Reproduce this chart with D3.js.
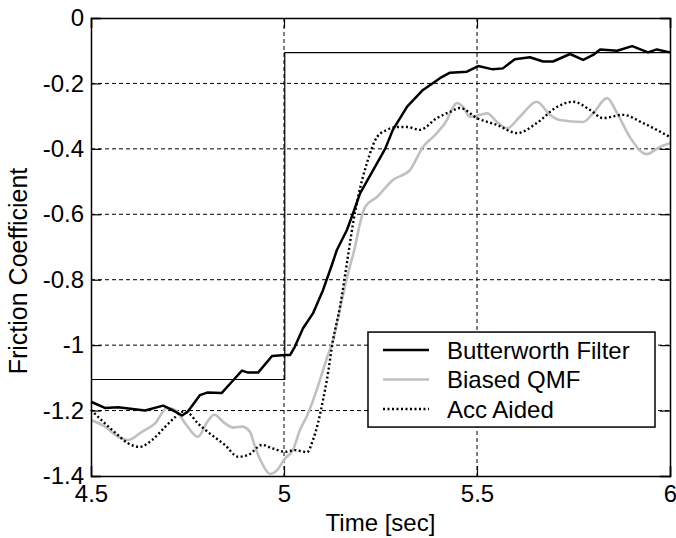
<!DOCTYPE html>
<html>
<head>
<meta charset="utf-8">
<script src="https://cdn.jsdelivr.net/npm/d3@7"></script>
<style>
  body { margin: 0; background: #fff; }
  svg text { font-family: "Liberation Sans", Arial, sans-serif; fill: #000; }
</style>
</head>
<body>
<svg width="676" height="538"></svg>
<script>
// tick values
var xTicks = [4.5, 5, 5.5, 6];
var yTicks = [0, -0.2, -0.4, -0.6, -0.8, -1, -1.2, -1.4];

// reference step (time, value)
var stepT = [4.5, 5.002, 5.002, 6];
var stepV = [-1.105, -1.105, -0.106, -0.106];

// Butterworth Filter
var bwT = [4.500, 4.536, 4.570, 4.640, 4.687, 4.710, 4.736, 4.751, 4.782, 4.801, 4.839, 4.865, 4.891, 4.907, 4.933, 4.969, 5.003, 5.016, 5.028, 5.049, 5.075, 5.101, 5.124, 5.137, 5.163, 5.179, 5.197, 5.231, 5.262, 5.282, 5.319, 5.360, 5.404, 5.430, 5.474, 5.503, 5.541, 5.567, 5.598, 5.637, 5.671, 5.697, 5.741, 5.775, 5.801, 5.819, 5.863, 5.902, 5.943, 5.966, 6.000];
var bwV = [-1.173, -1.192, -1.190, -1.200, -1.185, -1.198, -1.215, -1.203, -1.153, -1.145, -1.146, -1.112, -1.078, -1.084, -1.084, -1.033, -1.030, -1.030, -1.005, -0.949, -0.903, -0.832, -0.755, -0.709, -0.648, -0.597, -0.536, -0.465, -0.400, -0.342, -0.271, -0.220, -0.184, -0.167, -0.164, -0.147, -0.157, -0.154, -0.126, -0.120, -0.133, -0.133, -0.110, -0.128, -0.113, -0.096, -0.100, -0.086, -0.105, -0.096, -0.105];

// Biased QMF
var qmfT = [4.500, 4.536, 4.570, 4.596, 4.632, 4.666, 4.697, 4.718, 4.744, 4.777, 4.801, 4.819, 4.847, 4.868, 4.891, 4.912, 4.925, 4.943, 4.964, 4.982, 5.003, 5.023, 5.041, 5.060, 5.075, 5.093, 5.111, 5.127, 5.150, 5.166, 5.184, 5.197, 5.210, 5.241, 5.282, 5.326, 5.360, 5.396, 5.422, 5.438, 5.448, 5.464, 5.482, 5.508, 5.526, 5.552, 5.578, 5.611, 5.655, 5.689, 5.715, 5.775, 5.801, 5.837, 5.863, 5.896, 5.940, 5.974, 6.000];
var qmfV = [-1.229, -1.249, -1.280, -1.290, -1.265, -1.239, -1.192, -1.198, -1.239, -1.280, -1.235, -1.213, -1.239, -1.252, -1.249, -1.265, -1.311, -1.361, -1.394, -1.382, -1.346, -1.321, -1.260, -1.215, -1.170, -1.107, -1.040, -0.985, -0.862, -0.780, -0.700, -0.627, -0.578, -0.547, -0.495, -0.465, -0.394, -0.352, -0.312, -0.272, -0.260, -0.272, -0.302, -0.296, -0.291, -0.318, -0.337, -0.302, -0.256, -0.296, -0.312, -0.318, -0.291, -0.245, -0.291, -0.364, -0.416, -0.394, -0.383];

// Acc Aided
var accT = [4.500, 4.536, 4.570, 4.596, 4.627, 4.658, 4.692, 4.718, 4.736, 4.751, 4.777, 4.813, 4.847, 4.881, 4.907, 4.943, 4.969, 5.003, 5.028, 5.060, 5.075, 5.088, 5.101, 5.111, 5.127, 5.145, 5.163, 5.179, 5.192, 5.215, 5.241, 5.267, 5.293, 5.319, 5.352, 5.396, 5.430, 5.456, 5.500, 5.552, 5.604, 5.655, 5.707, 5.749, 5.793, 5.826, 5.878, 5.930, 6.000];
var accV = [-1.198, -1.239, -1.275, -1.300, -1.311, -1.290, -1.250, -1.220, -1.204, -1.207, -1.239, -1.275, -1.305, -1.341, -1.336, -1.305, -1.315, -1.326, -1.321, -1.327, -1.290, -1.239, -1.168, -1.107, -0.985, -0.883, -0.749, -0.627, -0.547, -0.443, -0.364, -0.342, -0.333, -0.333, -0.342, -0.306, -0.287, -0.275, -0.306, -0.327, -0.352, -0.321, -0.272, -0.256, -0.281, -0.306, -0.296, -0.321, -0.364];

var names = ['Butterworth Filter', 'Biased QMF', 'Acc Aided'];

var margin = {top: 18, right: 6, bottom: 62, left: 91};
var width = 676 - margin.left - margin.right;
var height = 538 - margin.top - margin.bottom;

var svg = d3.select('svg');
var g = svg.append('g')
  .attr('transform', 'translate(' + margin.left + ',' + margin.top + ')');

var x = d3.scaleLinear().domain([4.5, 6]).range([0, width]);
var y = d3.scaleLinear().domain([-1.4, 0]).range([height, 0]);

var fmt = d => String(+d.toFixed(1));

// dashed grid
g.append('g').selectAll('line')
  .data(xTicks.slice(1, -1))
  .enter().append('line')
    .attr('x1', d => x(d)).attr('x2', d => x(d))
    .attr('y1', 0).attr('y2', height)
    .attr('stroke', '#000').attr('stroke-width', 1)
    .attr('stroke-dasharray', '4,3');
g.append('g').selectAll('line')
  .data(yTicks.slice(1, -1))
  .enter().append('line')
    .attr('y1', d => y(d)).attr('y2', d => y(d))
    .attr('x1', 0).attr('x2', width)
    .attr('stroke', '#000').attr('stroke-width', 1)
    .attr('stroke-dasharray', '4,3');

var zip = (ts, vs) => ts.map((t, i) => [t, vs[i]]);
var line = d3.line().x(d => x(d[0])).y(d => y(d[1]));
var smooth = d3.line().x(d => x(d[0])).y(d => y(d[1])).curve(d3.curveMonotoneX);

// step reference
g.append('path')
  .datum(zip(stepT, stepV))
  .attr('d', line)
  .attr('fill', 'none').attr('stroke', '#000').attr('stroke-width', 1.2);

g.append('path')
  .datum(zip(qmfT, qmfV))
  .attr('d', smooth)
  .attr('fill', 'none').attr('stroke', '#c0c0c0').attr('stroke-width', 2.6);

g.append('path')
  .datum(zip(accT, accV))
  .attr('d', smooth)
  .attr('fill', 'none').attr('stroke', '#000').attr('stroke-width', 2.4)
  .attr('stroke-dasharray', '2,2.5');

g.append('path')
  .datum(zip(bwT, bwV))
  .attr('d', line)
  .attr('fill', 'none').attr('stroke', '#000').attr('stroke-width', 2.5)
  .attr('stroke-linejoin', 'round');

// axes (ticks inward on all four sides)
g.append('g')
  .attr('transform', 'translate(0,' + height + ')')
  .call(d3.axisBottom(x).tickValues(xTicks).tickFormat(fmt).tickSize(-10).tickPadding(9));
g.append('g')
  .call(d3.axisLeft(y).tickValues(yTicks).tickFormat(fmt).tickSize(-10).tickPadding(7));
g.append('g')
  .call(d3.axisTop(x).tickValues(xTicks).tickFormat('').tickSize(-10));
g.append('g')
  .attr('transform', 'translate(' + width + ',0)')
  .call(d3.axisRight(y).tickValues(yTicks).tickFormat('').tickSize(-10));

g.selectAll('.domain').attr('stroke', '#000').attr('stroke-width', 1.5);
g.selectAll('.tick line').attr('stroke', '#000').attr('stroke-width', 1.2);
g.selectAll('.tick text').style('font-size', '24px')
  .style('font-family', '"Liberation Sans", Arial, sans-serif');

// axis titles
svg.append('text')
  .attr('x', margin.left + width / 2)
  .attr('y', 531)
  .attr('text-anchor', 'middle')
  .style('font-size', '24px')
  .text('Time [sec]');

svg.append('text')
  .attr('transform', 'translate(27,' + (margin.top + height / 2 + 24) + ') rotate(-90)')
  .attr('text-anchor', 'middle')
  .style('font-size', '25px')
  .text('Friction Coefficient');

// legend
var leg = g.append('g')
  .attr('transform', 'translate(' + x(5.2176) + ',' + y(-0.96) + ')');
leg.append('rect')
  .attr('width', 287).attr('height', 95)
  .attr('fill', '#fff').attr('stroke', '#000').attr('stroke-width', 1.5);

var legStyles = [
  {stroke: '#000', dash: null, w: 2.5},
  {stroke: '#c0c0c0', dash: null, w: 2.6},
  {stroke: '#000', dash: '2,2.5', w: 2.4}
];
var li = leg.selectAll('g.item')
  .data(names)
  .enter().append('g')
    .attr('class', 'item')
    .attr('transform', (d, i) => 'translate(0,' + (18 + i * 29.5) + ')');
li.append('line')
  .attr('x1', 15).attr('x2', 61)
  .attr('stroke', (d, i) => legStyles[i].stroke)
  .attr('stroke-width', (d, i) => legStyles[i].w)
  .attr('stroke-dasharray', (d, i) => legStyles[i].dash);
li.append('text')
  .attr('x', 79)
  .attr('dy', '0.36em')
  .style('font-size', '24px')
  .text(d => d);
</script>
</body>
</html>
